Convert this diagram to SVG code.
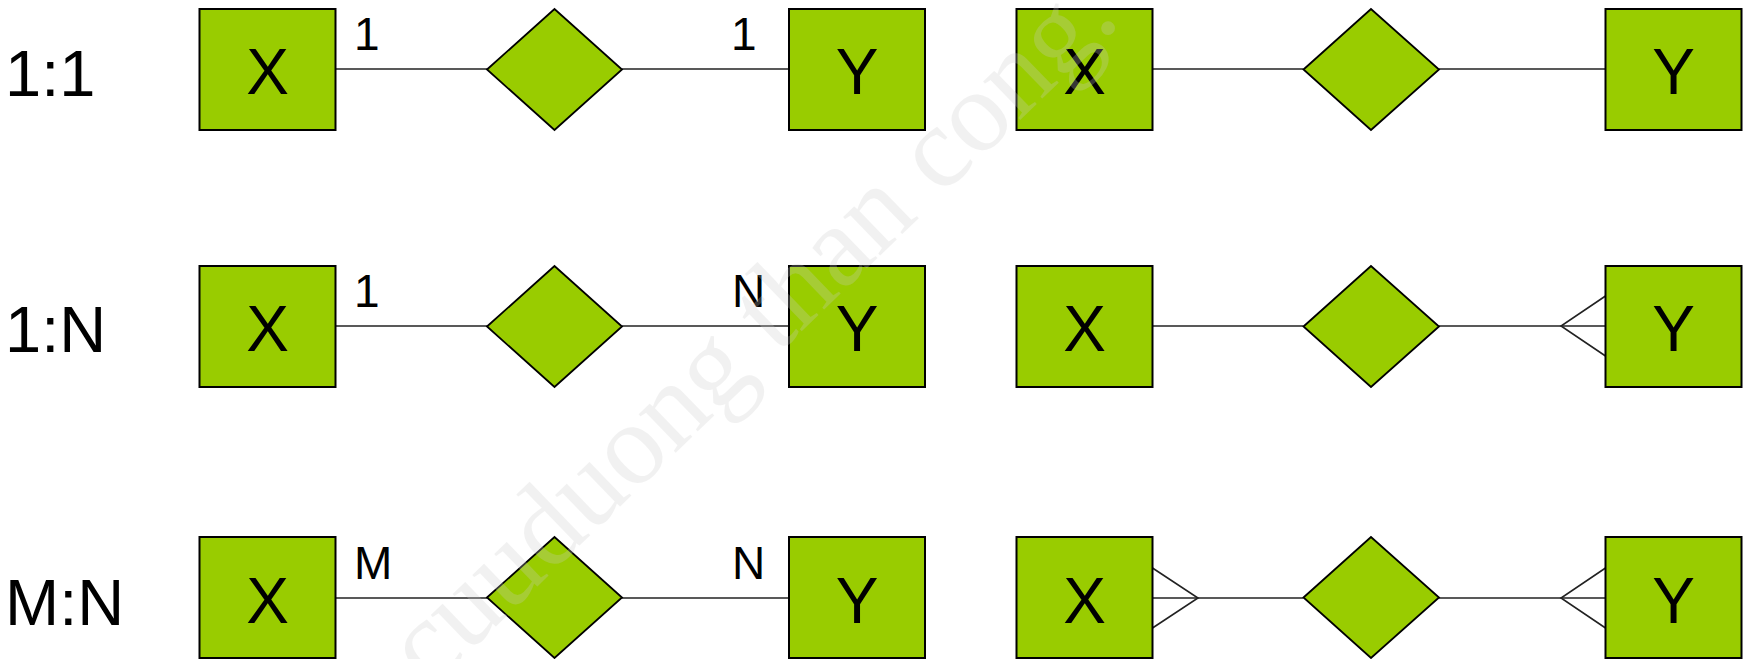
<svg xmlns="http://www.w3.org/2000/svg" width="1748" height="659" viewBox="0 0 1748 659">
<style>
.ent{fill:#99cc00;stroke:#000;stroke-width:2}
.rel{fill:#99cc00;stroke:#000;stroke-width:1.8}
.ln{stroke:#222;stroke-width:1.6;fill:none}
.t{font-family:"Liberation Sans",Arial,sans-serif;fill:#000}
.big{font-size:65px}
.nl{font-size:64px;text-anchor:middle}
.card{font-size:46px}
.wm{font-family:"Liberation Serif","Times New Roman",serif;font-size:116px;fill:#cccccc;opacity:0.26}
</style>
<rect width="1748" height="659" fill="#fff"/>
<g id="row-labels">
<text class="t big" x="5" y="96">1:1</text>
<text class="t big" x="5" y="352">1:N</text>
<text class="t big" x="5" y="625">M:N</text>
</g>
<g id="connectors">
<line class="ln" x1="335.5" y1="69" x2="487" y2="69"/>
<line class="ln" x1="622" y1="69" x2="789" y2="69"/>
<line class="ln" x1="1152.5" y1="69" x2="1303.5" y2="69"/>
<line class="ln" x1="1439" y1="69" x2="1605.5" y2="69"/>
<line class="ln" x1="335.5" y1="326" x2="487" y2="326"/>
<line class="ln" x1="622" y1="326" x2="789" y2="326"/>
<line class="ln" x1="1152.5" y1="326" x2="1303.5" y2="326"/>
<line class="ln" x1="1439" y1="326" x2="1605.5" y2="326"/>
<polyline class="ln" points="1605.5,296 1561,326 1605.5,356"/>
<line class="ln" x1="335.5" y1="598" x2="487" y2="598"/>
<line class="ln" x1="622" y1="598" x2="789" y2="598"/>
<line class="ln" x1="1152.5" y1="598" x2="1303.5" y2="598"/>
<line class="ln" x1="1439" y1="598" x2="1605.5" y2="598"/>
<polyline class="ln" points="1152.5,568 1198,598 1152.5,628"/>
<polyline class="ln" points="1605.5,568 1561,598 1605.5,628"/>
</g>
<g id="r1-x1"><rect class="ent" x="199.5" y="9" width="136" height="121"/><text class="t nl" x="267.5" y="94">X</text></g>
<g id="r1-d1"><polygon class="rel" points="487,69.5 554.5,9 622,69.5 554.5,130"/></g>
<g id="r1-y1"><rect class="ent" x="789" y="9" width="136" height="121"/><text class="t nl" x="857" y="94">Y</text></g>
<g id="r1-x2"><rect class="ent" x="1016.5" y="9" width="136" height="121"/><text class="t nl" x="1084.5" y="94">X</text></g>
<g id="r1-d2"><polygon class="rel" points="1303.5,69.5 1371,9 1439,69.5 1371,130"/></g>
<g id="r1-y2"><rect class="ent" x="1605.5" y="9" width="136" height="121"/><text class="t nl" x="1673.5" y="94">Y</text></g>

<g id="r2-x1"><rect class="ent" x="199.5" y="266" width="136" height="121"/><text class="t nl" x="267.5" y="351">X</text></g>
<g id="r2-d1"><polygon class="rel" points="487,326.5 554.5,266 622,326.5 554.5,387"/></g>
<g id="r2-y1"><rect class="ent" x="789" y="266" width="136" height="121"/><text class="t nl" x="857" y="351">Y</text></g>
<g id="r2-x2"><rect class="ent" x="1016.5" y="266" width="136" height="121"/><text class="t nl" x="1084.5" y="351">X</text></g>
<g id="r2-d2"><polygon class="rel" points="1303.5,326.5 1371,266 1439,326.5 1371,387"/></g>
<g id="r2-y2"><rect class="ent" x="1605.5" y="266" width="136" height="121"/><text class="t nl" x="1673.5" y="351">Y</text></g>

<g id="r3-x1"><rect class="ent" x="199.5" y="537" width="136" height="121"/><text class="t nl" x="267.5" y="623">X</text></g>
<g id="r3-d1"><polygon class="rel" points="487,597.5 554.5,537 622,597.5 554.5,658"/></g>
<g id="r3-y1"><rect class="ent" x="789" y="537" width="136" height="121"/><text class="t nl" x="857" y="623">Y</text></g>
<g id="r3-x2"><rect class="ent" x="1016.5" y="537" width="136" height="121"/><text class="t nl" x="1084.5" y="623">X</text></g>
<g id="r3-d2"><polygon class="rel" points="1303.5,597.5 1371,537 1439,597.5 1371,658"/></g>
<g id="r3-y2"><rect class="ent" x="1605.5" y="537" width="136" height="121"/><text class="t nl" x="1673.5" y="623">Y</text></g>

<g id="cardinalities">
<text class="t card" x="354" y="50">1</text>
<text class="t card" x="731" y="50">1</text>
<text class="t card" x="354" y="307">1</text>
<text class="t card" x="732" y="307">N</text>
<text class="t card" x="354" y="579">M</text>
<text class="t card" x="732" y="579">N</text>
</g>
<text class="wm" transform="translate(430,690) rotate(-44)" textLength="962" lengthAdjust="spacing">cuuduong than cong.</text>
</svg>
